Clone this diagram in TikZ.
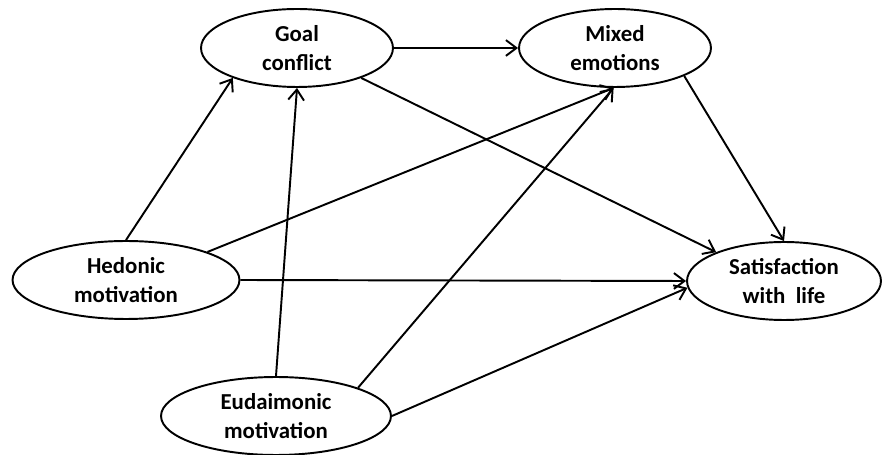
\documentclass[tikz,border=0pt]{standalone}
\usepackage{fontspec}
\setmainfont{Carlito}
\usepackage{tikz}
\usetikzlibrary{
  arrows.meta,
  shapes.geometric
}

\begin{document}
\begin{tikzpicture}[
  x=0.02cm, y=-0.02cm,
  construct/.style = {draw, ellipse, line width=1.1pt, inner sep=0pt,
                      minimum height=1.56cm, align=center,
                      font=\fontsize{13}{16.2}\selectfont\bfseries},
  effect/.style    = {-{Straight Barb[length=6pt,width=9pt,line width=1.1pt]},
                      line width=1.1pt}
]
  \useasboundingbox (0,0) rectangle (882,455);

  % Mediators
  \node[construct, minimum width=3.84cm] (goal) at (297,48) {Goal\\conflict};
  \node[construct, minimum width=3.84cm] (mixed) at (615,48) {Mixed\\emotions};

  % Predictors
  \node[construct, minimum width=4.54cm] (hed) at (126,280) {Hedonic\\motivation};
  \node[construct, minimum width=4.6cm] (eud) at (276,416) {Eudaimonic\\motivation};

  % Outcome
  \node[construct, minimum width=3.88cm] (sat) at (784,281) {Satisfaction\\with\ \ life};

  % Paths
  \draw[effect] (goal.east) -- (mixed.west);
  \draw[effect] (hed.north) -- (goal.205);
  \draw[effect] (hed.19) -- (mixed.268);
  \draw[effect] (hed.east) -- (sat.west);
  \draw[effect] (goal.-25) -- (sat.157);
  \draw[effect] (mixed.-22) -- (sat.north);
  \draw[effect] (eud.north) -- (goal.south);
  \draw[effect] (eud.19) -- (mixed.268);
  \draw[effect] (eud.east) -- (sat.184);

\end{tikzpicture}
\end{document}
